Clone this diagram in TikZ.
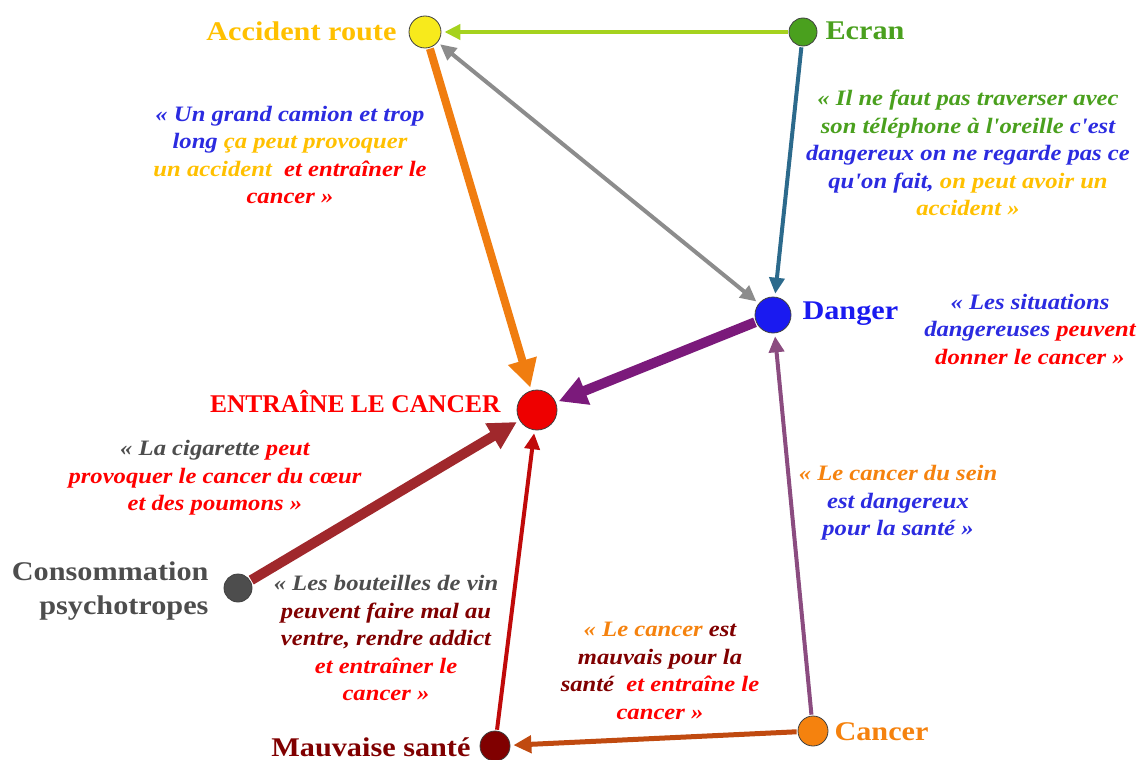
\documentclass[tikz,border=0pt]{standalone}
\usepackage{fontspec}
\setmainfont{Liberation Serif}
\newfontfamily\qfont[FakeStretch=1.12,Ligatures=TeXOff]{Liberation Serif}
\usetikzlibrary{arrows.meta}
\definecolor{cYel}{HTML}{F7EA1C}
\definecolor{cGold}{HTML}{FFC000}
\definecolor{cGreen}{HTML}{4AA01E}
\definecolor{cBlue}{HTML}{1A1AF0}
\definecolor{tBlue}{HTML}{2B2BE0}
\definecolor{cRed}{HTML}{EE0000}
\definecolor{tRed}{HTML}{FF0000}
\definecolor{cGrey}{HTML}{4D4D4D}
\definecolor{cDark}{HTML}{800000}
\definecolor{cOrange}{HTML}{F5820E}
\definecolor{eYG}{HTML}{A5D21E}
\definecolor{eSteel}{HTML}{2C6A8C}
\definecolor{eGrey}{HTML}{8C8C8C}
\definecolor{eOrange}{HTML}{F07D10}
\definecolor{ePurple}{HTML}{7B1A7B}
\definecolor{eBrown}{HTML}{A0282C}
\definecolor{eDRed}{HTML}{C00A0A}
\definecolor{eMauve}{HTML}{8B4C80}
\definecolor{eRust}{HTML}{C04A10}
\tikzset{
  dot/.style={circle,draw=black!75,line width=0.8pt,inner sep=0pt,minimum size=#1},
  lab/.style={font=\qfont\fontsize{27}{34}\selectfont\bfseries},
  quote/.style={align=center,font=\qfont\fontsize{22}{27.5}\selectfont\bfseries\itshape},
  thin/.style={line width=4pt,-{Triangle[length=16pt,width=15pt]},shorten >=3pt,shorten <=1pt},
  thick/.style={line width=#1,-{Triangle[length=28pt,width=28pt]},shorten >=3pt,shorten <=1pt}
}
\begin{document}
\begin{tikzpicture}[x=1pt,y=-1pt]
\useasboundingbox (0,0) rectangle (1146,760);
% nodes
\node[dot=32pt,fill=cYel] (acc) at (425,32) {};
\node[dot=28pt,fill=cGreen] (ecran) at (803,32) {};
\node[dot=36pt,fill=cBlue] (danger) at (773,315) {};
\node[dot=40pt,fill=cRed] (ent) at (537,410) {};
\node[dot=28pt,fill=cGrey] (conso) at (238,588) {};
\node[dot=30pt,fill=cDark] (mauv) at (495,746) {};
\node[dot=30pt,fill=cOrange] (cancer) at (813,731) {};
% labels
\node[lab,text=cGold,anchor=east] (lacc) at (400,31) {Accident route};
\node[lab,text=cGreen,anchor=west] (lecran) at (822,31) {Ecran};
\node[lab,text=cBlue,anchor=west] (ldanger) at (799,314) {Danger};
\node[text=tRed,anchor=east,font=\fontsize{25.5}{30}\selectfont\bfseries] (lent) at (504,402) {ENTRAÎNE LE CANCER};
\node[lab,text=cGrey,anchor=east,align=right] (lconso) at (212,591) {Consommation\\psychotropes};
\node[lab,text=cDark,anchor=east] (lmauv) at (474,747) {Mauvaise santé};
\node[lab,text=cOrange,anchor=west] (lcancer) at (831,732) {Cancer};
% edges
\draw[thin,color=eYG] (ecran) -- (acc);
\draw[thin,color=eSteel] (ecran) -- (danger);
\draw[line width=4pt,color=eGrey,{Triangle[length=16pt,width=15pt]}-{Triangle[length=16pt,width=15pt]},shorten >=3pt,shorten <=3pt] (acc) -- (danger);
\draw[thick=8pt,color=eOrange] (acc) -- (ent);
\draw[thick=10pt,color=ePurple] (danger) -- (ent);
\draw[thick=10pt,color=eBrown] (conso) -- (ent);
\draw[thin,color=eDRed] (mauv) -- (ent);
\draw[thin,color=eMauve] (cancer) -- (danger);
\draw[line width=5pt,color=eRust,-{Triangle[length=18pt,width=17pt]},shorten >=3pt,shorten <=1pt] (cancer) -- (mauv);
% quotes
\node[quote] (q1) at (290,155) {{\color{tBlue}« Un grand camion et trop}\\{\color{tBlue}long} {\color{cGold}ça peut provoquer}\\{\color{cGold}un accident}\ \ {\color{tRed}et entraîner le}\\{\color{tRed}cancer »}};
\node[quote] (q2) at (968,153) {{\color{cGreen}« Il ne faut pas traverser avec}\\{\color{cGreen}son téléphone à l'oreille} {\color{tBlue}c'est}\\{\color{tBlue}dangereux on ne regarde pas ce}\\{\color{tBlue}qu'on fait,} {\color{cGold}on peut avoir un}\\{\color{cGold}accident »}};
\node[quote] (q3) at (1030,329) {{\color{tBlue}« Les situations}\\{\color{tBlue}dangereuses} {\color{tRed}peuvent}\\{\color{tRed}donner le cancer »}};
\node[quote] (q4) at (215,478) {{\color{cGrey}« La cigarette} {\color{tRed}peut}\\{\color{tRed}provoquer le cancer du cœur}\\{\color{tRed}et des poumons »}};
\node[quote] (q5) at (386,638) {{\color{cGrey}« Les bouteilles de vin}\\{\color{cDark}peuvent faire mal au}\\{\color{cDark}ventre, rendre addict}\\{\color{tRed}et entraîner le}\\{\color{tRed}cancer »}};
\node[quote] (q6) at (660,671) {{\color{cOrange}« Le cancer} {\color{cDark}est}\\{\color{cDark}mauvais pour la}\\{\color{cDark}santé}\ \ {\color{tRed}et entraîne le}\\{\color{tRed}cancer »}};
\node[quote] (q7) at (898,503) {{\color{cOrange}« Le cancer du sein}\\{\color{tBlue}est dangereux}\\{\color{tBlue}pour la santé »}};
\end{tikzpicture}
\end{document}
